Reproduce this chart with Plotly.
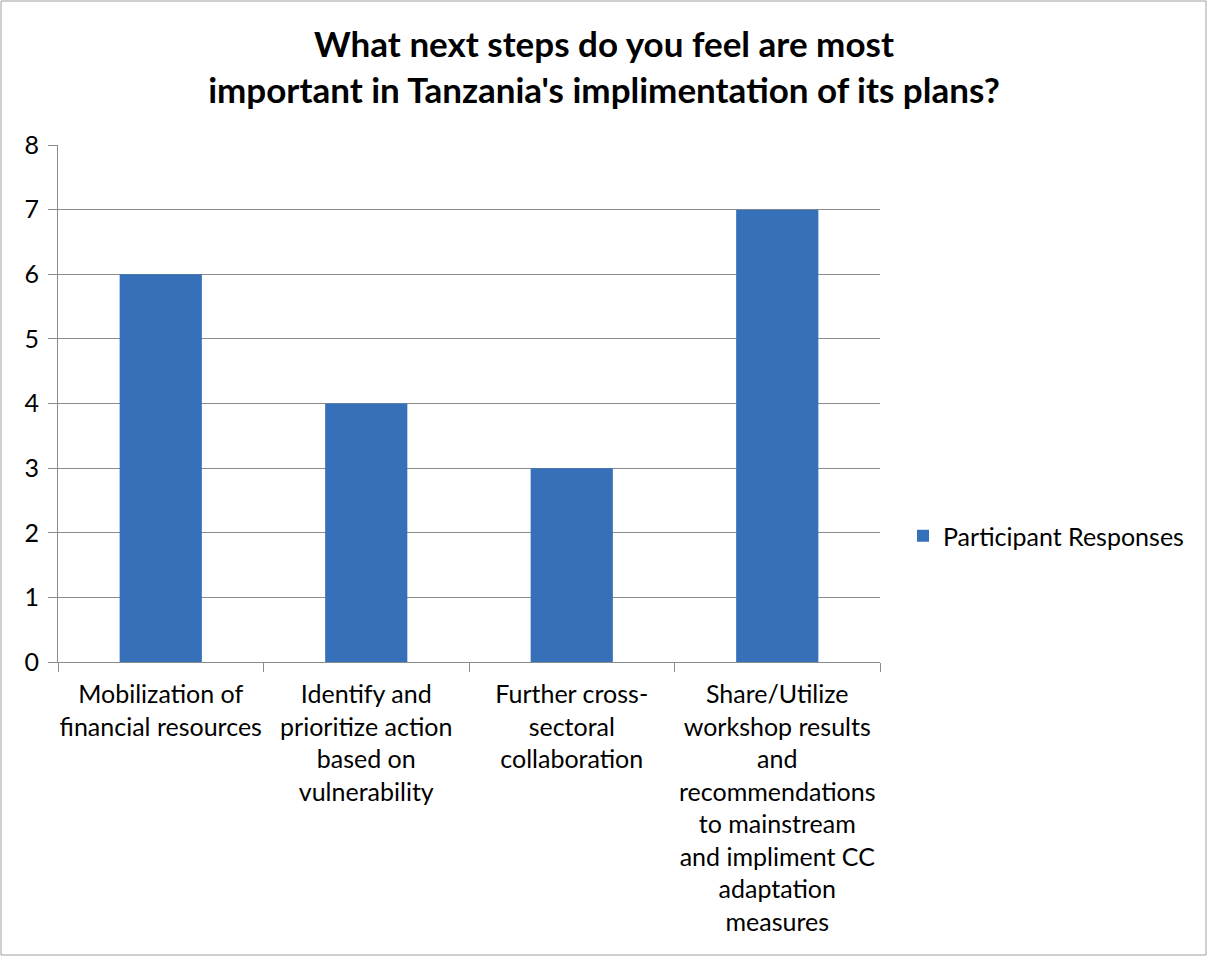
import plotly.graph_objects as go

categories = [
    "Mobilization of<br>financial resources",
    "Identify and<br>prioritize action<br>based on<br>vulnerability",
    "Further cross-<br>sectoral<br>collaboration",
    "Share/Utilize<br>workshop results<br>and<br>recommendations<br>to mainstream<br>and impliment CC<br>adaptation<br>measures",
]
responses = [6, 4, 3, 7]
series_name = "Participant Responses"
title_text = "What next steps do you feel are most<br>important in Tanzania's implimentation of its plans?"

W, H = 1208, 957
L, R, T, B = 58, 328, 145, 295
pw, ph = W - L - R, H - T - B

FONT = "Lato"

fig = go.Figure()
fig.add_trace(go.Bar(
    x=categories, y=responses, name=series_name,
    marker=dict(color="#3570b8", line=dict(width=0)),
    showlegend=True,
))

fig.update_layout(
    width=W, height=H,
    margin=dict(l=L, r=R, t=T, b=B, autoexpand=False),
    paper_bgcolor="white", plot_bgcolor="white",
    font=dict(family=FONT, size=25, color="black"),
    bargap=0.6,
    title=dict(text=title_text, x=0.5, xref="container", xanchor="center",
               y=1 - 57 / H, yref="container", yanchor="middle",
               font=dict(family=FONT, size=35, color="black", weight="bold")),
    showlegend=True,
    legend=dict(x=(903 - L) / pw, xanchor="left", y=(H - B - 536) / ph, yanchor="middle",
                font=dict(family=FONT, size=25, color="black"), bgcolor="rgba(0,0,0,0)"),
    xaxis=dict(showline=True, linecolor="#8c8c8c", linewidth=1,
               ticks="outside", tickson="boundaries", ticklen=9, tickcolor="#8c8c8c",
               showgrid=False, tickfont=dict(family=FONT, size=25, color="black"),
               tickangle=0, fixedrange=True, ticklabelstandoff=10),
    yaxis=dict(range=[0, 8], dtick=1, showline=True, linecolor="#8c8c8c", linewidth=1,
               ticks="outside", ticklen=9, tickcolor="#8c8c8c",
               showgrid=True, gridcolor="#8c8c8c", gridwidth=1, zeroline=False,
               tickfont=dict(family=FONT, size=25, color="black"), ticklabelstandoff=4),
)

# outer chart border
fig.add_shape(type="rect", xref="paper", yref="paper",
              x0=(1 - L) / pw, x1=(W - 2 - L) / pw,
              y0=(H - B - (H - 2)) / ph, y1=(H - B - 1) / ph,
              line=dict(color="#a0a0a0", width=1), fillcolor="rgba(0,0,0,0)", layer="below")

fig.write_html("out.html")
